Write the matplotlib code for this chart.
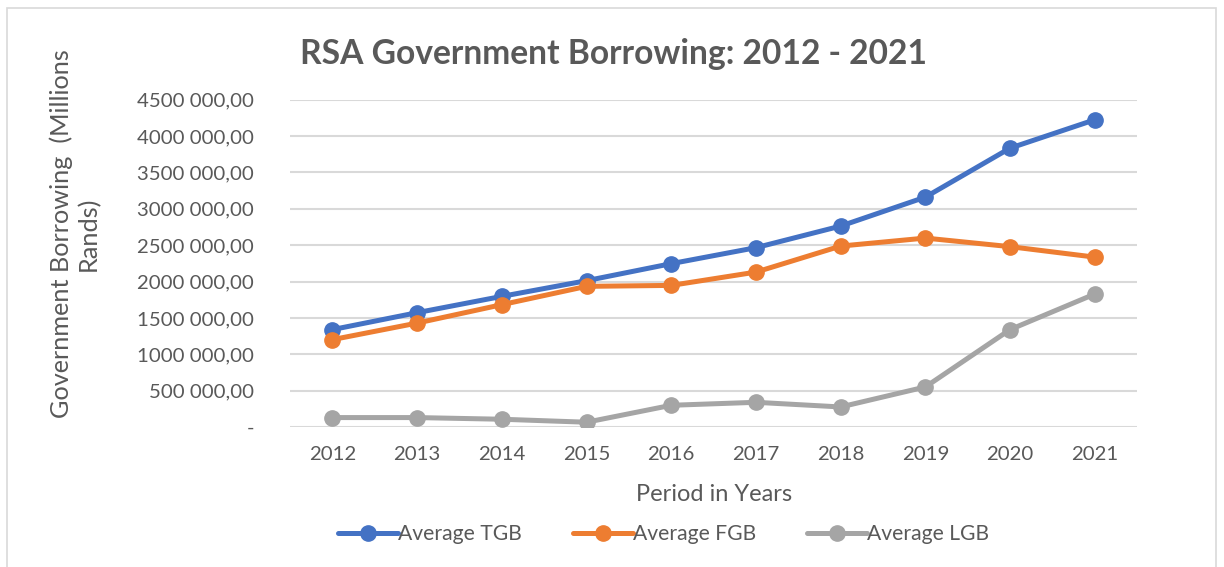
import matplotlib.pyplot as plt
from matplotlib.patches import Rectangle
from matplotlib.ticker import FuncFormatter, MultipleLocator

plt.rcParams['font.family'] = ['Lato', 'DejaVu Sans']

years = ['2012', '2013', '2014', '2015', '2016', '2017', '2018', '2019', '2020', '2021']
avg_tgb = [1339000, 1572000, 1796000, 2012000, 2246000, 2466000, 2763000, 3161000, 3835000, 4225000]
avg_fgb = [1201000, 1429000, 1682000, 1934000, 1947000, 2130000, 2488000, 2598000, 2480000, 2336000]
avg_lgb = [129000, 129000, 106000, 65000, 298000, 339000, 275000, 550000, 1339000, 1828000]

series = [('Average TGB', avg_tgb, '#4472C4'),
          ('Average FGB', avg_fgb, '#ED7D31'),
          ('Average LGB', avg_lgb, '#A5A5A5')]

txt = '#595959'

def fmt(v, pos):
    if v == 0:
        return '-'
    v = int(round(v))
    return '{} {:03d},00'.format(v // 1000, v % 1000)

fig = plt.figure(figsize=(12.24, 5.67), dpi=100)
ax = fig.add_axes([0.237, 0.247, 0.692, 0.577])

x = list(range(len(years)))
for name, vals, col in series:
    ax.plot(x, vals, color=col, lw=3.6, marker='o', ms=11, label=name,
            solid_capstyle='round', zorder=3)

ax.set_xlim(-0.5, len(years) - 0.5)
ax.set_ylim(0, 4500000)
ax.yaxis.set_major_locator(MultipleLocator(500000))
ax.yaxis.set_major_formatter(FuncFormatter(fmt))
ax.set_xticks(x)
ax.set_xticklabels(years)
ax.grid(axis='y', color='#d9d9d9', lw=1.5, zorder=0)
for s in ax.spines.values():
    s.set_visible(False)
ax.tick_params(length=0, labelsize=14.7, colors=txt, pad=14)
ax.tick_params(axis='y', pad=26)

ax.set_xlabel('Period in Years', fontsize=17, color=txt, labelpad=15)
ax.set_ylabel('Government Borrowing  (Millions\nRands)', fontsize=18.2, color=txt,
              labelpad=27, linespacing=1.15, y=0.59)

fig.text(0.501, 0.905, 'RSA Government Borrowing: 2012 - 2021', ha='center', va='center',
         fontsize=24.2, fontweight='bold', color=txt)

leg = fig.legend(loc='center', bbox_to_anchor=(0.542, 0.058), ncol=3, frameon=False,
                 fontsize=15.2, handlelength=2.85, handletextpad=0.0, columnspacing=2.4,
                 labelcolor=txt)

fig.patches.append(Rectangle((7 / 1224, -0.01), 1209 / 1224, 1 - 8 / 567 + 0.01,
                             transform=fig.transFigure, fill=False,
                             edgecolor='#d9d9d9', lw=1.2))

fig.savefig('out.png', dpi=100)
